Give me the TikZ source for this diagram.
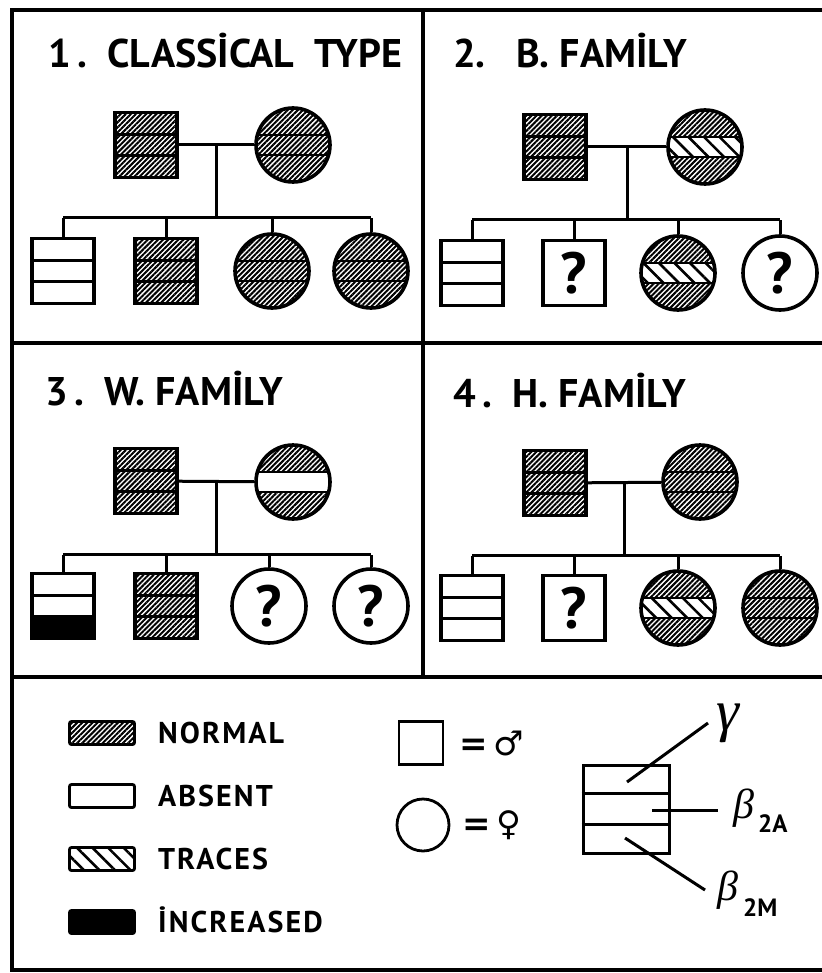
\documentclass[tikz,border=0pt]{standalone}
\usepackage{fontspec}
\setmainfont{PT Sans}
\newfontfamily\symfont{DejaVu Sans}
\newfontfamily\greekfont{Liberation Serif}
\usetikzlibrary{patterns.meta, calc, positioning}

\tikzset{
  nrmband/.style={pattern={Lines[angle=45,distance=3.6pt,line width=2pt]}},
  absband/.style={fill=white},
  trcband/.style={pattern={Lines[angle=-45,distance=11pt,line width=2.6pt]}},
  incband/.style={fill=black},
  kin/.style={line width=3pt},
  sep/.style={line width=2.8pt},
  frame/.style={line width=3.4pt},
  malebox/.style={draw, line width=3.6pt, rectangle, minimum width=62pt,
    minimum height=65pt, inner sep=0pt, font=\fontsize{58}{58}\selectfont\bfseries},
  femalebox/.style={draw, line width=3.6pt, circle, minimum size=74pt,
    inner sep=0pt, font=\fontsize{58}{58}\selectfont\bfseries},
  paneltitle/.style={anchor=base west, inner sep=0pt,
    font=\fontsize{40}{40}\selectfont\bfseries},
  swatch/.style={draw, line width=2.8pt, minimum width=65pt, minimum height=23pt,
    inner sep=0pt, rounded corners=2pt},
  legtext/.style={inner sep=0pt, anchor=west, text height=21pt, text depth=0pt,
    font=\fontsize{30}{30}\selectfont\bfseries\addfontfeature{LetterSpace=7}},
  symtext/.style={inner sep=0pt, anchor=west, font=\fontsize{34}{34}\selectfont\symfont\bfseries},
  greek/.style={inner sep=0pt, anchor=base west, font=\greekfont\itshape},
  lead/.style={line width=3pt}
}

% three bands of a square person
\newcommand{\sqbands}[4]{%
  \begin{scope}[shift={#1}]
    \fill[#2] (-31,-32.5) rectangle (31,-10.8);
    \fill[#3] (-31,-10.8) rectangle (31,10.8);
    \fill[#4] (-31,10.8) rectangle (31,32.5);
    \draw[sep] (-31,-10.8) -- (31,-10.8) (-31,10.8) -- (31,10.8);
  \end{scope}}
% three bands of a round person
\newcommand{\cibands}[4]{%
  \begin{scope}[shift={#1}]
    \begin{scope}
      \clip (0,0) circle[radius=37pt];
      \fill[#2] (-38,-38) rectangle (38,-10);
      \fill[#3] (-38,-10) rectangle (38,10);
      \fill[#4] (-38,10) rectangle (38,38);
    \end{scope}
    \draw[sep] (-35.6,-10) -- (35.6,-10) (-35.6,10) -- (35.6,10);
  \end{scope}}

\begin{document}
\begin{tikzpicture}[x=1pt, y=-1pt]

  \useasboundingbox (0,0) rectangle (821,973);
  \fill[white] (0,0) rectangle (821,973);

  % frame
  \draw[frame] (12,10) rectangle (826,970);
  \draw[frame] (12,343) -- (826,343);
  \draw[frame] (12,677) -- (826,677);
  \draw[frame] (423,10) -- (423,677);

  % 1. classical type
  \node[paneltitle] (tt1) at (48,68) {1\,.\ \ CLASSİCAL\ \ TYPE};
  \sqbands{(146,145)}{nrmband}{nrmband}{nrmband}
  \cibands{(293,145)}{nrmband}{nrmband}{nrmband}
  \sqbands{(63,271)}{absband}{absband}{absband}
  \sqbands{(166,271)}{nrmband}{nrmband}{nrmband}
  \cibands{(272,271)}{nrmband}{nrmband}{nrmband}
  \cibands{(371,271)}{nrmband}{nrmband}{nrmband}
  \node[malebox] (fa1) at (146,145) {};
  \node[femalebox] (mo1) at (293,145) {};
  \node[malebox] (ch1a) at (63,271) {};
  \node[malebox] (ch1b) at (166,271) {};
  \node[femalebox] (ch1c) at (272,271) {};
  \node[femalebox] (ch1d) at (371,271) {};

  \draw[kin] (fa1) -- (mo1);
  \coordinate (mar1) at ($(fa1.east)!0.5!(mo1.west)$);
  \coordinate (sib1) at ($(mar1)+(0,73)$);
  \draw[kin] (mar1) -- (sib1);
  \draw[kin] (ch1a.north |- sib1) -- (ch1d.north |- sib1);
  \foreach \c in {ch1a,ch1b,ch1c,ch1d}
    \draw[kin] (\c.north) -- (\c.north |- sib1);

  % 2. B. family
  \node[paneltitle] (tt2) at (453,68) {2.\ \ \ B.\ FAMİLY};
  \sqbands{(555,147)}{nrmband}{nrmband}{nrmband}
  \cibands{(705,147)}{nrmband}{trcband}{nrmband}
  \sqbands{(472,273)}{absband}{absband}{absband}
  \cibands{(678,273)}{nrmband}{trcband}{nrmband}
  \node[malebox] (fa2) at (555,147) {};
  \node[femalebox] (mo2) at (705,147) {};
  \node[malebox] (ch2a) at (472,273) {};
  \node[malebox] (ch2b) at (574,273) {?};
  \node[femalebox] (ch2c) at (678,273) {};
  \node[femalebox] (ch2d) at (780,273) {?};

  \draw[kin] (fa2) -- (mo2);
  \coordinate (mar2) at ($(fa2.east)!0.5!(mo2.west)$);
  \coordinate (sib2) at ($(mar2)+(0,73)$);
  \draw[kin] (mar2) -- (sib2);
  \draw[kin] (ch2a.north |- sib2) -- (ch2d.north |- sib2);
  \foreach \c in {ch2a,ch2b,ch2c,ch2d}
    \draw[kin] (\c.north) -- (\c.north |- sib2);

  % 3. W. family
  \node[paneltitle] (tt3) at (45,405) {3\,.\ \ W.\ FAMİLY};
  \sqbands{(146,481)}{nrmband}{nrmband}{nrmband}
  \cibands{(293,482)}{nrmband}{absband}{nrmband}
  \sqbands{(63,606)}{absband}{absband}{incband}
  \sqbands{(166,606)}{nrmband}{nrmband}{nrmband}
  \node[malebox] (fa3) at (146,481) {};
  \node[femalebox] (mo3) at (293,482) {};
  \node[malebox] (ch3a) at (63,606) {};
  \node[malebox] (ch3b) at (166,606) {};
  \node[femalebox] (ch3c) at (269,606) {?};
  \node[femalebox] (ch3d) at (371,606) {?};

  \draw[kin] (fa3) -- (mo3);
  \coordinate (mar3) at ($(fa3.east)!0.5!(mo3.west)$);
  \coordinate (sib3) at ($(mar3)+(0,73)$);
  \draw[kin] (mar3) -- (sib3);
  \draw[kin] (ch3a.north |- sib3) -- (ch3d.north |- sib3);
  \foreach \c in {ch3a,ch3b,ch3c,ch3d}
    \draw[kin] (\c.north) -- (\c.north |- sib3);

  % 4. H. family
  \node[paneltitle] (tt4) at (453,407) {4\,.\ \ H.\ FAMİLY};
  \sqbands{(555,483)}{nrmband}{nrmband}{nrmband}
  \cibands{(700,482)}{nrmband}{nrmband}{nrmband}
  \sqbands{(472,608)}{absband}{absband}{absband}
  \cibands{(678,608)}{nrmband}{trcband}{nrmband}
  \cibands{(780,608)}{nrmband}{nrmband}{nrmband}
  \node[malebox] (fa4) at (555,483) {};
  \node[femalebox] (mo4) at (700,482) {};
  \node[malebox] (ch4a) at (472,608) {};
  \node[malebox] (ch4b) at (574,608) {?};
  \node[femalebox] (ch4c) at (678,608) {};
  \node[femalebox] (ch4d) at (780,608) {};

  \draw[kin] (fa4) -- (mo4);
  \coordinate (mar4) at ($(fa4.east)!0.5!(mo4.west)$);
  \coordinate (sib4) at ($(mar4)+(0,73)$);
  \draw[kin] (mar4) -- (sib4);
  \draw[kin] (ch4a.north |- sib4) -- (ch4d.north |- sib4);
  \foreach \c in {ch4a,ch4b,ch4c,ch4d}
    \draw[kin] (\c.north) -- (\c.north |- sib4);

  % legend: band fills
  \node[swatch, nrmband] (lgnrm) at (102,733) {};
  \node[swatch, absband] (lgabs) at (102,796) {};
  \node[swatch, trcband] (lgtrc) at (102,859) {};
  \node[swatch, incband] (lginc) at (102,922) {};
  \node[legtext, right=22pt of lgnrm] (txnrm) {NORMAL};
  \node[legtext, right=22pt of lgabs] (txabs) {ABSENT};
  \node[legtext, right=22pt of lgtrc] (txtrc) {TRACES};
  \node[legtext, right=22pt of lginc] (txinc) {İNCREASED};

  % legend: sexes
  \node[draw, line width=2.8pt, minimum width=44pt, minimum height=43pt] (lgmale) at (421,743) {};
  \node[draw, line width=2.8pt, circle, minimum size=52pt] (lgfemale) at (423,825) {};
  \node[symtext, right=15pt of lgmale] (txmale) {=\,♂};
  \node[symtext, right=12pt of lgfemale] (txfemale) {=\,♀};

  % legend: bands
  \node[draw, line width=3pt, minimum width=86pt, minimum height=88pt] (lgbox) at (626,809) {};
  \draw[sep] ($(lgbox.north west)!1/3!(lgbox.south west)$) -- ($(lgbox.north east)!1/3!(lgbox.south east)$);
  \draw[sep] ($(lgbox.north west)!2/3!(lgbox.south west)$) -- ($(lgbox.north east)!2/3!(lgbox.south east)$);

  \node[greek] (lbgam) at (716,730) {\fontsize{58}{58}\selectfont γ};
  \node[greek] (lbbta) at (733,818) {\fontsize{42}{42}\selectfont β\kern4pt\raisebox{-14pt}{\fontsize{25}{25}\selectfont\upshape\rmfamily\bfseries 2A}};
  \node[greek] (lbbtm) at (717,900) {\fontsize{42}{42}\selectfont β\kern5pt\raisebox{-16pt}{\fontsize{25}{25}\selectfont\upshape\rmfamily\bfseries 2M}};

  \coordinate (ingam) at (627,782);
  \coordinate (outgam) at (708,723);
  \coordinate (inbta) at (652,810);
  \coordinate (outbta) at (718,810);
  \coordinate (inbtm) at (625,838);
  \coordinate (outbtm) at (705,890);
  \draw[lead] (ingam) -- (outgam);
  \draw[lead] (inbta) -- (outbta);
  \draw[lead] (inbtm) -- (outbtm);

\end{tikzpicture}
\end{document}
